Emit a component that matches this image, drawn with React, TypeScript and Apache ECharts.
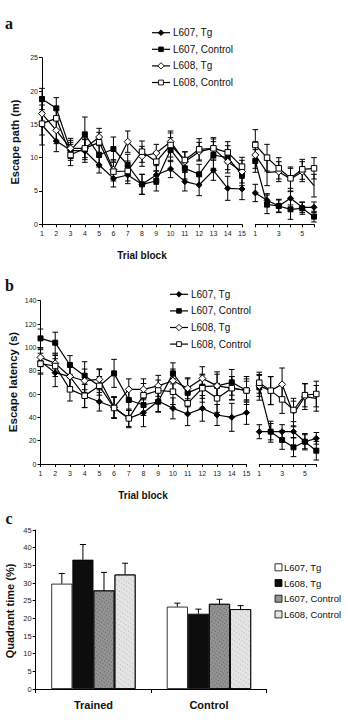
import React, { useEffect, useRef } from 'react';
import * as echarts from 'echarts';

// ---------- Data ----------
const trialBlocks = ['1', '2', '3', '4', '5', '6', '7', '8', '9', '10', '11', '12', '13', '14', '15'];
const probeBlocks = ['1', '2', '3', '4', '5', '6'];

// Panel a: escape path (m) - 15 training blocks followed by 6 probe blocks
const pathL607Tg = [14.9, 12.5, 11.1, 11.0, 8.9, 6.9, 7.4, 6.0, 7.4, 8.3, 6.4, 5.9, 8.1, 5.4, 5.3, 4.7, 3.6, 2.75, 3.9, 2.55, 2.55];
const pathL607Ctrl = [18.8, 17.4, 11.1, 13.5, 10.4, 11.3, 8.9, 6.0, 6.5, 11.2, 8.4, 7.5, 10.4, 10.0, 7.4, 9.5, 3.0, 2.75, 2.25, 2.4, 1.15];
const pathL608Tg = [16.6, 14.1, 11.4, 11.4, 13.1, 8.2, 12.4, 10.2, 10.7, 12.4, 9.4, 10.9, 11.4, 9.4, 7.9, 10.4, 7.8, 7.9, 6.8, 7.9, 5.8];
const pathL608Ctrl = [15.1, 15.9, 10.4, 11.4, 12.3, 7.9, 8.0, 10.9, 9.4, 11.9, 9.65, 11.25, 11.4, 10.8, 8.65, 11.9, 10.0, 8.4, 6.9, 8.25, 8.4];
const pathErrL607Tg = [3.0, 1.6, 1.2, 1.7, 1.2, 1.3, 1.3, 1.5, 1.4, 1.3, 1.4, 1.6, 1.5, 1.8, 1.6, 1.3, 1.0, 0.9, 1.0, 0.8, 0.8];
const pathErrL607Ctrl = [1.6, 1.6, 1.5, 2.6, 1.8, 1.8, 1.6, 1.5, 1.5, 1.8, 1.6, 1.5, 2.0, 1.8, 1.6, 1.7, 1.4, 1.0, 1.5, 0.9, 0.8];
const pathErrL608Tg = [1.8, 2.0, 1.5, 1.7, 1.3, 1.5, 1.6, 1.5, 1.3, 1.6, 1.5, 1.4, 1.4, 1.7, 1.7, 2.0, 2.0, 1.5, 1.8, 1.5, 1.7];
const pathErrL608Ctrl = [1.7, 1.7, 1.6, 1.4, 1.5, 1.4, 1.5, 1.6, 1.4, 1.8, 1.2, 1.6, 1.6, 1.6, 1.4, 2.3, 2.0, 1.6, 1.5, 1.5, 1.6];

// Panel b: escape latency (s)
const latL607Tg = [88, 78.3, 74.9, 58.3, 53.4, 48.6, 39.1, 44, 54, 47.7, 42.9, 47.7, 42, 40, 44, 27.7, 27.7, 27.7, 27.7, 19.1, 22];
const latL607Ctrl = [107.7, 104, 84.9, 75.7, 66.9, 77.7, 54.9, 50.6, 53.4, 77.7, 61, 66.3, 67, 70, 63, 65.7, 27.7, 20.6, 14.3, 19.1, 11.4];
const latL608Tg = [91.4, 86.3, 75, 71.4, 72.6, 48.6, 64, 64, 67, 71.4, 64.9, 73.4, 67, 65, 63, 67, 62.9, 68.3, 42.9, 57.7, 56.3];
const latL608Ctrl = [86, 84, 64, 58.5, 67, 48, 39.1, 59, 63, 62, 52, 65, 56.3, 65, 63, 69.7, 62.9, 55.4, 46.3, 59, 60];
const latErrL607Tg = [10, 12, 9, 10, 8, 9, 7, 12, 9, 9, 10, 11, 9, 12, 10, 6, 7, 6, 5, 6, 5];
const latErrL607Ctrl = [8, 9, 8, 12, 14, 12, 9, 9, 9, 9, 12, 10, 12, 11, 12, 11, 9, 8, 8, 7, 8];
const latErrL608Tg = [8, 8, 9, 10, 9, 9, 9, 9, 9, 10, 9, 10, 10, 10, 8, 9, 12, 14, 11, 11, 11];
const latErrL608Ctrl = [9, 9, 10, 10, 8, 9, 8, 10, 9, 11, 9, 12, 12, 10, 10, 9, 12, 12, 10, 10, 11];

// Panel c: quadrant time (%)
const quadCategories = ['Trained', 'Control'];
const quadL607Tg = [29.8, 23.3];
const quadL608Tg = [36.6, 21.3];
const quadL607Ctrl = [27.9, 24.1];
const quadL608Ctrl = [32.4, 22.6];
const quadErrL607Tg = [2.9, 1.0];
const quadErrL608Tg = [4.3, 1.3];
const quadErrL607Ctrl = [5.1, 1.3];
const quadErrL608Ctrl = [3.2, 1.0];

const lineNames = ['L607, Tg', 'L607, Control', 'L608, Tg', 'L608, Control'];
const barNames = ['L607, Tg', 'L608, Tg', 'L607, Control', 'L608, Control'];

// ---------- Styles ----------
const FONT = '"Liberation Sans", Arial, Helvetica, sans-serif';
const markerStyle: Record<string, any> = {
  'L607, Tg': { symbol: 'diamond', size: 6, fill: '#000' },
  'L607, Control': { symbol: 'rect', size: 5, fill: '#000' },
  'L608, Tg': { symbol: 'diamond', size: 7, fill: '#fff' },
  'L608, Control': { symbol: 'rect', size: 5.5, fill: '#fff' },
};
const barColors: Record<string, string> = {
  'L607, Tg': '#ffffff',
  'L608, Tg': '#0d0d0d',
  'L607, Control': '#939393',
  'L608, Control': '#e4e4e4',
};
const barDecals: Record<string, any> = {
  'L607, Control': { symbol: 'rect', symbolSize: 1, color: 'rgba(50,50,50,0.55)', dashArrayX: [1, 2], dashArrayY: [1, 2], rotation: 0.6 },
  'L608, Control': { symbol: 'rect', symbolSize: 1, color: 'rgba(150,150,150,0.55)', dashArrayX: [1, 2], dashArrayY: [1, 3], rotation: 0.6 },
};

function lineErrRender(cap: number) {
  return (params: any, api: any) => {
    const x = api.value(0);
    const lo = api.coord([x, api.value(1)]);
    const hi = api.coord([x, api.value(2)]);
    const st = { stroke: '#000', lineWidth: 1 };
    return {
      type: 'group',
      children: [
        { type: 'line', shape: { x1: lo[0], y1: lo[1], x2: hi[0], y2: hi[1] }, style: st },
        { type: 'line', shape: { x1: lo[0] - cap, y1: lo[1], x2: lo[0] + cap, y2: lo[1] }, style: st },
        { type: 'line', shape: { x1: hi[0] - cap, y1: hi[1], x2: hi[0] + cap, y2: hi[1] }, style: st },
      ],
    };
  };
}

function barErrRender(j: number, n: number, gapRatio: number) {
  return (params: any, api: any) => {
    const ci = api.value(0);
    const v = api.value(1);
    const e = api.value(2);
    const base = api.coord([ci, v]);
    const top = api.coord([ci, v + e]);
    const cw = api.size([1, 0])[0];
    const group = cw * (1 - gapRatio);
    const bw = group / n;
    const cx = base[0] - group / 2 + (j + 0.5) * bw;
    const st = { stroke: '#000', lineWidth: 1 };
    return {
      type: 'group',
      children: [
        { type: 'line', shape: { x1: cx, y1: base[1], x2: cx, y2: top[1] }, style: st },
        { type: 'line', shape: { x1: cx - 3, y1: top[1], x2: cx + 3, y2: top[1] }, style: st },
      ],
    };
  };
}

// hand-drawn legend (line + marker + text)
function lineLegend(x0: number, y0: number, step: number) {
  const items: any[] = [];
  lineNames.forEach((name, i) => {
    const y = y0 + i * step;
    const m = markerStyle[name];
    const cx = x0 + 9;
    items.push({ type: 'line', shape: { x1: x0, y1: y, x2: x0 + 18, y2: y }, style: { stroke: '#000', lineWidth: 1.2 } });
    if (m.symbol === 'diamond') {
      const r = m.fill === '#000' ? 2.8 : 3.2;
      items.push({ type: 'polygon', shape: { points: [[cx, y - r], [cx + r, y], [cx, y + r], [cx - r, y]] }, style: { fill: m.fill, stroke: '#000', lineWidth: 0.9 } });
    } else {
      const s = m.fill === '#000' ? 4.6 : 4.8;
      items.push({ type: 'rect', shape: { x: cx - s / 2, y: y - s / 2, width: s, height: s }, style: { fill: m.fill, stroke: '#000', lineWidth: 0.9 } });
    }
    items.push({ type: 'text', x: x0 + 21, y, style: { text: name, font: `10px ${FONT}`, fill: '#111', textVerticalAlign: 'middle' } });
  });
  return items;
}

function barLegend(x0: number, y0: number, step: number) {
  const items: any[] = [];
  barNames.forEach((name, i) => {
    const y = y0 + i * step;
    items.push({ type: 'rect', shape: { x: x0, y: y - 3.5, width: 7, height: 7 }, style: { fill: barColors[name], stroke: '#000', lineWidth: 0.8 } });
    items.push({ type: 'text', x: x0 + 9, y, style: { text: name, font: `9.5px ${FONT}`, fill: '#111', textVerticalAlign: 'middle' } });
  });
  return items;
}

function buildOption() {
  const grids = [
    { left: 42, top: 57.7, width: 200, height: 166.6 },
    { left: 255.3, top: 57.7, width: 58.7, height: 166.6 },
    { left: 40.5, top: 300.7, width: 206, height: 163.3 },
    { left: 259.3, top: 300.7, width: 57, height: 163.3 },
    { left: 35.7, top: 530, width: 231, height: 159 },
  ];

  const axisLine = { show: true, lineStyle: { color: '#000', width: 1 } };
  const axisTick = { show: true, length: 3, lineStyle: { color: '#000', width: 1 } };
  const tickLabel = { fontFamily: FONT, fontSize: 7, color: '#222' };

  const xAxes: any[] = [
    { gridIndex: 0, type: 'category', data: trialBlocks, boundaryGap: false, axisLine, axisTick: { ...axisTick, alignWithLabel: true }, axisLabel: { ...tickLabel, margin: 6, interval: 0 } },
    { gridIndex: 1, type: 'category', data: probeBlocks, boundaryGap: false, axisLine, axisTick: { ...axisTick, interval: 0 }, axisLabel: { ...tickLabel, margin: 6, interval: 1 } },
    { gridIndex: 2, type: 'category', data: trialBlocks, boundaryGap: false, axisLine, axisTick: { ...axisTick, alignWithLabel: true }, axisLabel: { ...tickLabel, margin: 6, interval: 0 } },
    { gridIndex: 3, type: 'category', data: probeBlocks, boundaryGap: false, axisLine, axisTick: { ...axisTick, interval: 0 }, axisLabel: { ...tickLabel, margin: 6, interval: 1 } },
    { gridIndex: 4, type: 'category', data: quadCategories, boundaryGap: true, axisLine, axisTick: { ...axisTick, length: 4 }, axisLabel: { fontFamily: FONT, fontSize: 11, fontWeight: 'bold', color: '#111', margin: 10 } },
  ];

  const yBase = (gi: number, max: number, interval: number, show: boolean) => ({
    gridIndex: gi, type: 'value', min: 0, max, interval, show,
    axisLine, axisTick, splitLine: { show: false },
    axisLabel: { ...tickLabel, margin: 4 },
  });
  const yAxes: any[] = [
    yBase(0, 25, 5, true),
    yBase(1, 25, 5, false),
    yBase(2, 140, 20, true),
    yBase(3, 140, 20, false),
    { ...yBase(4, 45, 5, true), axisLabel: { ...tickLabel, fontSize: 7.5, margin: 4 } },
  ];

  const series: any[] = [];
  const addPanel = (tag: string, arrays: number[][], errs: number[][], axL: number, axR: number) => {
    arrays.forEach((arr, k) => {
      const name = lineNames[k];
      const m = markerStyle[name];
      const err = errs[k];
      const segs = [
        { ax: axL, vals: arr.slice(0, 15), e: err.slice(0, 15) },
        { ax: axR, vals: arr.slice(15), e: err.slice(15) },
      ];
      segs.forEach((sg) => {
        series.push({
          type: 'custom',
          name: `err-${tag}-${k}-${sg.ax}`,
          xAxisIndex: sg.ax, yAxisIndex: sg.ax,
          renderItem: lineErrRender(2.8),
          encode: { x: 0, y: [1, 2] },
          data: sg.vals.map((v, i) => [i, v - sg.e[i], v + sg.e[i]]),
          z: 2, silent: true,
        });
        series.push({
          type: 'line',
          name: `${name}|${tag}`,
          xAxisIndex: sg.ax, yAxisIndex: sg.ax,
          data: sg.vals,
          symbol: m.symbol, symbolSize: m.size, showSymbol: true,
          lineStyle: { color: '#000', width: 1.2 },
          itemStyle: { color: m.fill, borderColor: '#000', borderWidth: 1 },
          z: 3, silent: true,
        });
      });
    });
  };
  addPanel('a', [pathL607Tg, pathL607Ctrl, pathL608Tg, pathL608Ctrl], [pathErrL607Tg, pathErrL607Ctrl, pathErrL608Tg, pathErrL608Ctrl], 0, 1);
  addPanel('b', [latL607Tg, latL607Ctrl, latL608Tg, latL608Ctrl], [latErrL607Tg, latErrL607Ctrl, latErrL608Tg, latErrL608Ctrl], 2, 3);

  const quadVals = [quadL607Tg, quadL608Tg, quadL607Ctrl, quadL608Ctrl];
  const quadErrs = [quadErrL607Tg, quadErrL608Tg, quadErrL607Ctrl, quadErrL608Ctrl];
  const gapRatio = 0.27;
  quadVals.forEach((vals, j) => {
    const nm = barNames[j];
    const itemStyle: any = { color: barColors[nm], borderColor: '#000', borderWidth: 0.8 };
    if (barDecals[nm]) itemStyle.decal = barDecals[nm];
    series.push({
      type: 'bar',
      name: `${nm}|c`,
      xAxisIndex: 4, yAxisIndex: 4,
      data: vals,
      barGap: '0%', barCategoryGap: '27%',
      itemStyle,
      z: 2, silent: true,
    });
  });
  quadVals.forEach((vals, j) => {
    series.push({
      type: 'custom',
      name: `errc-${j}`,
      xAxisIndex: 4, yAxisIndex: 4,
      renderItem: barErrRender(j, 4, gapRatio),
      encode: { x: 0, y: 1 },
      data: vals.map((v, i) => [i, v, quadErrs[j][i]]),
      z: 3, silent: true,
    });
  });

  const letter = (t: string, x: number, y: number) => ({
    type: 'text', x, y,
    style: { text: t, font: 'bold 16px "Liberation Serif", "DejaVu Serif", serif', fill: '#111', textAlign: 'center', textVerticalAlign: 'middle' },
  });
  const boldText = (t: string, x: number, y: number, size: number, rot = 0) => ({
    type: 'text', x, y, rotation: rot,
    style: { text: t, font: `bold ${size}px ${FONT}`, fill: '#111', textAlign: 'center', textVerticalAlign: 'middle' },
  });

  return {
    animation: false,
    backgroundColor: '#ffffff',
    grid: grids,
    xAxis: xAxes,
    yAxis: yAxes,
    series,
    graphic: [
      letter('a', 9, 23),
      letter('b', 9.5, 285),
      letter('c', 9, 518.5),
      boldText('Escape path (m)', 15, 142, 11, Math.PI / 2),
      boldText('Escape latency (s)', 13, 382, 11.5, Math.PI / 2),
      boldText('Quadrant time (%)', 10, 611, 11, Math.PI / 2),
      boldText('Trial block', 142, 255, 10),
      boldText('Trial block', 143, 495, 10),
      ...lineLegend(152, 32.7, 16.6),
      ...lineLegend(170, 294.3, 16.6),
      ...barLegend(275, 567.3, 15.7),
    ],
  };
}

export default function App() {
  const ref = useRef<HTMLDivElement>(null);
  useEffect(() => {
    if (!ref.current) return;
    const chart = echarts.init(ref.current, undefined, { renderer: 'svg' });
    chart.setOption(buildOption() as any);
    return () => chart.dispose();
  }, []);
  return (
    <div
      ref={ref}
      style={{ position: 'fixed', left: 0, top: 0, width: 347, height: 726, background: '#fff' }}
    />
  );
}
